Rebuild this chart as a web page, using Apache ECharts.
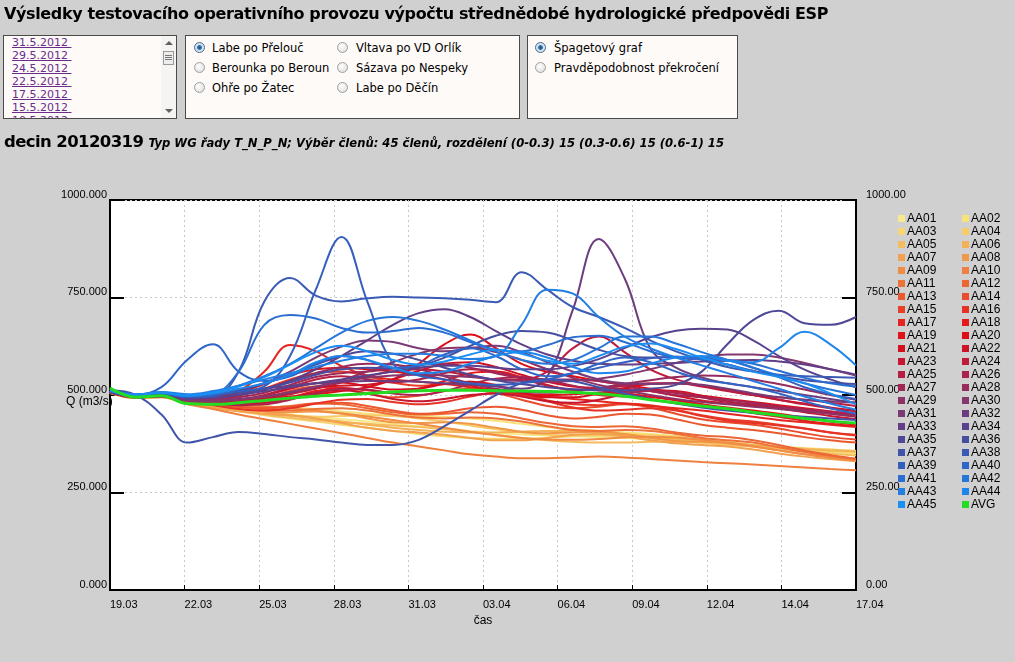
<!DOCTYPE html>
<html>
<head>
<meta charset="utf-8">
<script src="https://cdn.jsdelivr.net/npm/echarts@6/dist/echarts.min.js"></script>
<style>
  html,body{margin:0;padding:0;}
  body{background:#d0d0d0;width:1015px;height:662px;overflow:hidden;position:relative;font-family:'DejaVu Sans',Verdana,sans-serif;color:#000;}
  #chart{position:absolute;left:0;top:0;width:1015px;height:662px;z-index:0;}
  .abs{position:absolute;z-index:1;}
  .box{position:absolute;z-index:1;background:#fdfaf8;border:1px solid #4a4a4a;box-sizing:border-box;}
  .lnk{position:absolute;left:8px;font-size:11px;color:#6b2c8c;text-decoration:underline;white-space:pre;line-height:13px;}
  .rad{position:absolute;font-size:11.5px;white-space:nowrap;line-height:14px;}
  .rc{position:absolute;width:11px;height:11px;border-radius:50%;border:1px solid #a0a0a0;background:radial-gradient(circle at 40% 35%,#ffffff,#d8d8d8);box-sizing:border-box;}
  .rc.on{border-color:#4a6a8a;background:radial-gradient(circle at 50% 50%,#1e5a8c 0,#2a70a8 30%,#cfe0ee 45%,#e8eef4 100%);}
</style>
</head>
<body>
<div id="chart"></div>

<div class="abs" style="left:4px;top:4px;font-size:16px;letter-spacing:-0.37px;font-weight:bold;white-space:nowrap;">Výsledky testovacího operativního provozu výpočtu střednědobé hydrologické předpovědi ESP</div>

<div class="box" style="left:3px;top:35px;width:174px;height:84px;overflow:hidden;">
  <div class="lnk" style="top:0px;">31.5.2012 </div>
  <div class="lnk" style="top:13px;">29.5.2012 </div>
  <div class="lnk" style="top:26px;">24.5.2012 </div>
  <div class="lnk" style="top:39px;">22.5.2012 </div>
  <div class="lnk" style="top:52px;">17.5.2012 </div>
  <div class="lnk" style="top:65px;">15.5.2012 </div>
  <div class="lnk" style="top:78px;">10.5.2012 </div>
  <div style="position:absolute;left:157px;top:0;width:16px;height:82px;background:#f6f4f2;"></div>
  <div style="position:absolute;left:161px;top:5px;width:0;height:0;border-left:4px solid transparent;border-right:4px solid transparent;border-bottom:4px solid #606060;"></div>
  <div style="position:absolute;left:159px;top:15px;width:11px;height:14px;border:1px solid #9a9a9a;background:#ececec;box-sizing:border-box;"></div>
  <div style="position:absolute;left:161px;top:19px;width:7px;height:1px;background:#777;"></div>
  <div style="position:absolute;left:161px;top:21px;width:7px;height:1px;background:#777;"></div>
  <div style="position:absolute;left:161px;top:23px;width:7px;height:1px;background:#777;"></div>
  <div style="position:absolute;left:161px;top:73px;width:0;height:0;border-left:4px solid transparent;border-right:4px solid transparent;border-top:4px solid #606060;"></div>
</div>

<div class="box" style="left:185px;top:35px;width:335px;height:84px;">
  <div class="rc on" style="left:8px;top:6px;"></div><div class="rad" style="left:26px;top:5px;">Labe po Přelouč</div>
  <div class="rc" style="left:8px;top:26px;"></div><div class="rad" style="left:26px;top:25px;">Berounka po Beroun</div>
  <div class="rc" style="left:8px;top:46px;"></div><div class="rad" style="left:26px;top:45px;">Ohře po Žatec</div>
  <div class="rc" style="left:151px;top:6px;"></div><div class="rad" style="left:170px;top:5px;">Vltava po VD Orlík</div>
  <div class="rc" style="left:151px;top:26px;"></div><div class="rad" style="left:170px;top:25px;">Sázava po Nespeky</div>
  <div class="rc" style="left:151px;top:46px;"></div><div class="rad" style="left:170px;top:45px;">Labe po Děčín</div>
</div>

<div class="box" style="left:527px;top:35px;width:211px;height:84px;">
  <div class="rc on" style="left:7px;top:6px;"></div><div class="rad" style="left:26px;top:5px;">Špagetový graf</div>
  <div class="rc" style="left:7px;top:26px;"></div><div class="rad" style="left:26px;top:25px;">Pravděpodobnost překročení</div>
</div>

<div class="abs" style="left:4px;top:132px;white-space:nowrap;"><span style="font-size:16.5px;letter-spacing:-0.6px;font-weight:bold;">decin 20120319</span> <span style="font-size:11.6px;font-weight:bold;font-style:italic;">Typ WG řady T_N_P_N; Výběr členů: 45 členů, rozdělení (0-0.3) 15 (0.3-0.6) 15 (0.6-1) 15</span></div>

<script>
// ---------- DATA ----------
const X_LABELS = ['19.03','22.03','25.03','28.03','31.03','03.04','06.04','09.04','12.04','14.04','17.04'];
const DAYS = [0,1,2,3,4,5,6,7,8,9,10,11,12,13,14,15,16,17,18,19,20,21,22,23,24,25,26,27,28,29];
const Y_TICKS = [0,250,500,750,1000];

const AA01 = [506,493,497,480,472,464,457,450,444,438,432,426,420,414,408,403,399,396,394,392,390,387,384,380,376,372,368,364,360,356];
const AA02 = [508,494,496,481,476,472,470,468,464,458,452,448,446,444,440,434,426,418,412,408,404,400,394,386,378,370,364,358,354,350];
const AA03 = [505,492,495,478,468,458,448,440,432,424,416,408,400,394,390,388,388,390,394,398,400,398,394,388,380,372,366,360,356,352];
const AA04 = [509,495,498,484,474,462,452,446,444,446,448,446,440,432,422,412,404,398,396,396,394,390,384,378,372,368,364,362,360,357];
const AA05 = [507,494,496,480,470,460,450,442,436,430,426,422,418,412,406,398,390,384,380,378,378,380,380,378,374,368,362,356,350,345];
const AA06 = [510,496,499,486,478,468,458,448,440,432,424,416,410,406,404,404,406,408,408,404,398,393,388,382,376,371,366,362,358,355];
const AA07 = [508,494,496,479,468,458,452,448,440,428,416,408,404,398,390,384,384,390,398,400,394,384,376,372,368,360,350,342,336,330];
const AA08 = [507,493,497,483,476,466,458,456,458,452,440,430,428,430,426,416,406,402,404,406,400,390,382,380,378,370,358,348,342,336];
const AA09 = [509,495,498,485,480,476,471,466,460,453,445,436,426,416,406,397,390,386,385,387,391,393,391,385,377,368,358,348,339,332];
const AA10 = [506,492,494,476,464,450,438,426,414,402,390,378,368,358,348,342,338,338,340,342,340,336,332,328,325,322,318,314,310,307];
const AA11 = [510,496,500,487,480,470,462,460,464,466,460,450,442,440,442,440,432,420,410,408,410,408,400,390,384,378,366,354,344,336];
const AA12 = [508,494,497,484,476,470,468,472,478,476,466,456,450,452,456,452,440,428,420,418,420,414,404,396,392,384,372,358,346,336];
const AA13 = [509,495,498,486,478,470,466,470,478,480,472,460,452,456,466,470,462,448,440,444,452,450,438,424,416,410,402,392,384,378];
const AA14 = [507,494,497,484,478,480,492,510,522,518,504,494,498,510,516,506,488,472,466,470,476,468,452,438,430,424,414,402,392,386];
const AA15 = [510,496,500,490,490,498,516,540,556,560,548,532,524,528,534,526,506,486,476,474,478,474,462,448,438,432,424,414,404,398];
const AA16 = [508,495,498,485,474,464,460,466,478,488,490,482,476,482,496,506,500,484,468,460,462,466,460,446,434,428,422,414,404,396];
const AA17 = [509,496,499,488,490,510,560,628,612,574,550,540,534,528,520,512,504,496,490,484,478,472,466,460,452,444,436,430,424,418];
const AA18 = [507,494,497,484,480,476,480,494,510,518,512,506,516,536,556,560,546,526,510,500,496,494,488,476,464,454,444,434,426,420];
const AA19 = [510,497,500,490,494,506,528,552,566,570,566,560,552,540,524,512,504,500,502,506,504,496,486,476,468,460,452,442,432,424];
const AA20 = [508,495,498,486,484,486,490,496,502,510,520,540,580,630,655,620,580,560,548,536,526,516,506,498,490,482,474,466,458,450];
const AA21 = [509,496,499,488,484,486,498,516,530,532,522,514,516,528,534,524,506,494,494,504,518,528,530,524,512,500,488,478,468,460];
const AA22 = [507,494,497,484,480,480,488,504,518,524,526,540,562,580,584,572,552,534,522,518,516,510,498,486,478,472,466,460,454,448];
const AA23 = [510,497,500,490,484,478,480,492,506,512,504,490,484,490,500,504,496,484,480,488,502,512,510,498,484,474,466,456,446,438];
const AA24 = [508,495,498,486,484,486,492,502,516,532,548,560,566,560,550,540,540,560,620,650,610,566,540,524,512,500,488,476,466,458];
const AA25 = [509,496,499,488,486,488,500,520,540,548,540,532,540,556,566,560,542,524,514,516,524,530,530,522,510,500,494,488,480,472];
const AA26 = [508,495,498,486,480,474,476,488,504,516,514,504,500,510,528,542,546,538,524,512,508,510,506,494,482,476,470,464,458,452];
const AA27 = [510,497,500,490,490,494,506,526,546,556,560,568,578,580,570,556,544,540,540,536,524,510,500,494,488,480,470,460,452,444];
const AA28 = [508,495,498,487,490,500,516,536,556,572,580,578,566,548,530,516,508,506,510,518,528,538,546,550,548,540,528,514,500,488];
const AA29 = [509,496,499,489,488,490,496,506,520,538,560,584,606,620,622,610,590,566,544,526,512,500,490,482,476,470,464,458,452,446];
const AA30 = [507,494,497,485,484,488,496,508,522,534,544,550,552,550,546,540,536,534,536,542,552,566,582,596,604,604,596,582,566,550];
const AA31 = [510,497,502,492,496,510,530,560,596,624,640,636,620,612,620,626,610,584,560,540,530,528,530,526,516,504,494,488,484,480];
const AA32 = [508,498,505,496,500,508,516,524,530,534,536,536,534,530,526,522,516,548,720,900,800,620,570,545,530,520,510,500,490,480];
const AA33 = [509,496,500,490,492,500,514,536,566,600,640,680,710,720,700,664,630,604,588,580,578,580,582,586,588,590,586,578,566,552];
const AA34 = [510,498,503,494,494,500,510,520,530,540,550,560,570,575,575,570,566,566,574,592,620,648,665,670,668,640,600,565,540,520];
const AA35 = [508,497,504,496,500,512,530,552,578,600,612,606,590,570,552,538,528,520,515,512,512,516,526,560,630,692,716,684,680,700];
const AA36 = [511,500,506,498,500,506,516,532,552,566,570,568,574,596,626,652,664,660,640,616,600,596,598,592,578,562,548,538,532,528];
const AA37 = [512,500,450,378,392,405,400,392,386,378,372,372,385,420,460,500,530,540,535,520,504,490,478,468,460,454,448,444,440,436];
const AA38 = [511,498,503,494,496,560,740,800,755,740,748,752,750,748,744,738,815,770,725,700,672,640,612,590,572,560,552,548,546,544];
const AA39 = [512,500,506,496,500,510,522,600,770,905,740,580,550,540,530,526,530,540,556,570,584,594,598,596,590,570,546,520,502,490];
const AA40 = [512,502,520,590,630,560,536,548,580,600,590,570,576,604,620,600,566,548,556,580,596,584,560,540,530,520,504,484,466,452];
const AA41 = [510,498,505,497,502,560,680,705,696,672,660,664,672,660,636,616,612,628,648,652,636,612,596,592,590,580,562,544,530,522];
const AA42 = [511,499,506,498,506,524,548,580,620,660,690,700,690,668,640,612,590,580,590,620,650,650,632,610,590,570,550,530,514,500];
const AA43 = [512,500,508,502,510,524,540,556,572,588,600,606,606,600,592,600,680,770,760,700,650,620,596,576,556,536,516,496,478,462];
const AA44 = [512,501,507,499,504,516,530,552,584,600,590,570,556,560,580,600,610,596,572,556,560,580,596,600,588,584,620,662,630,576];
const AA45 = [511,500,506,498,506,522,546,578,610,626,612,590,578,586,604,616,606,588,580,600,624,632,618,596,578,560,546,530,504,476];
const AVG  = [518,494,498,478,476,480,486,492,497,500,504,508,511,512,512,511,510,509,507,503,497,488,480,472,465,456,448,440,433,428];

const SERIES_NAMES = ['AA01','AA02','AA03','AA04','AA05','AA06','AA07','AA08','AA09','AA10','AA11','AA12','AA13','AA14','AA15','AA16','AA17','AA18','AA19','AA20','AA21','AA22','AA23','AA24','AA25','AA26','AA27','AA28','AA29','AA30','AA31','AA32','AA33','AA34','AA35','AA36','AA37','AA38','AA39','AA40','AA41','AA42','AA43','AA44','AA45','AVG'];
const SERIES_VALUES = [AA01,AA02,AA03,AA04,AA05,AA06,AA07,AA08,AA09,AA10,AA11,AA12,AA13,AA14,AA15,AA16,AA17,AA18,AA19,AA20,AA21,AA22,AA23,AA24,AA25,AA26,AA27,AA28,AA29,AA30,AA31,AA32,AA33,AA34,AA35,AA36,AA37,AA38,AA39,AA40,AA41,AA42,AA43,AA44,AA45,AVG];

// ---------- STYLE ----------
const COLORS = ['#f8e98c','#f7e27c','#f6d672','#f5cc68','#f4bc5e','#f3b256','#f2a24e','#f19848','#f08c44','#ee8040','#ed723a','#ec6636','#ea5830','#e94c2c','#e83e28','#e63224','#e52620','#e41a1c','#e0121a','#dc0e18','#d60f20','#ce1228','#c61630','#be1a3a','#b61e44','#ac224e','#a02656','#962c5e','#8c3266','#84366e','#7a3a76','#6c3c7e','#623e86','#58428e','#4e4896','#464ea0','#4054aa','#3a5ab4','#345fbe','#2e66c8','#2a6ed2','#2676da','#227ee2','#1e86ea','#1a8ef2','#22dd22'];
const LABEL_FONT = "'Liberation Sans',Arial,sans-serif";

const chart = echarts.init(document.getElementById('chart'), null, {renderer:'canvas'});

const series = SERIES_NAMES.map((name, k) => ({
  name: name,
  type: 'line',
  smooth: 0.4,
  symbol: 'none',
  z: name === 'AVG' ? 5 : 2,
  lineStyle: {width: name === 'AVG' ? 3 : 2, color: COLORS[k]},
  itemStyle: {color: COLORS[k]},
  data: DAYS.map((d, i) => [d, SERIES_VALUES[k][i]]),
  emphasis: {disabled: true}
}));

const oddNames = SERIES_NAMES.filter((n, i) => i < 45 && i % 2 === 0);
const evenNames = SERIES_NAMES.filter((n, i) => i < 45 && i % 2 === 1).concat(['AVG']);

const legendBase = {
  orient: 'vertical', top: 209, itemWidth: 7, itemHeight: 7, itemGap: -6, icon: 'rect',
  selectedMode: false, padding: 0,
  textStyle: {fontSize: 12, fontFamily: LABEL_FONT, color: '#000', lineHeight: 11, padding: [8, 0, 0, -3]}
};

const axisLabelStyle = {color: '#000', fontFamily: LABEL_FONT, fontSize: 11};

chart.setOption({
  backgroundColor: 'transparent',
  animation: false,
  grid: {left: 110, top: 200, width: 746, height: 390, show: true, backgroundColor: '#ffffff', borderColor: '#000', borderWidth: 2},
  legend: [
    Object.assign({}, legendBase, {left: 898, data: oddNames}),
    Object.assign({}, legendBase, {left: 962, data: evenNames})
  ],
  xAxis: {
    type: 'value', min: 0, max: 29, interval: 2.9,
    name: 'čas', nameLocation: 'middle', nameGap: 17,
    nameTextStyle: {color: '#000', fontFamily: LABEL_FONT, fontSize: 12},
    axisLine: {show: true, lineStyle: {color: '#000', width: 2}},
    axisTick: {show: true, inside: true, length: 5, lineStyle: {color: '#000', width: 1}},
    axisLabel: Object.assign({}, axisLabelStyle, {
      margin: 9, align: 'left', showMinLabel: true, showMaxLabel: true,
      formatter: v => X_LABELS[Math.round(v / 2.9)]
    }),
    splitLine: {show: true, lineStyle: {color: '#c8c8c8', type: [2, 3], width: 1}}
  },
  yAxis: [
    {
      type: 'value', min: Y_TICKS[0], max: Y_TICKS[Y_TICKS.length - 1], interval: 250, position: 'left',
      axisLine: {show: true, lineStyle: {color: '#000', width: 2}},
      axisTick: {show: true, inside: true, length: 14, lineStyle: {color: '#000', width: 2}},
      axisLabel: Object.assign({}, axisLabelStyle, {margin: 3, verticalAlign: 'bottom', formatter: v => v.toFixed(3)}),
      splitLine: {show: true, lineStyle: {color: '#c8c8c8', type: [2, 3], width: 1}}
    },
    {
      type: 'value', min: Y_TICKS[0], max: Y_TICKS[Y_TICKS.length - 1], interval: 250, position: 'right',
      axisLine: {show: true, lineStyle: {color: '#000', width: 2}},
      axisTick: {show: true, inside: true, length: 14, lineStyle: {color: '#000', width: 2}},
      axisLabel: Object.assign({}, axisLabelStyle, {margin: 10, verticalAlign: 'bottom', formatter: v => v.toFixed(2)}),
      splitLine: {show: false}
    }
  ],
  graphic: [
    {type: 'text', left: 66, top: 396, style: {text: 'Q (m3/s)', fill: '#000', font: '12px ' + LABEL_FONT}}
  ],
  series: series
});
</script>
</body>
</html>
